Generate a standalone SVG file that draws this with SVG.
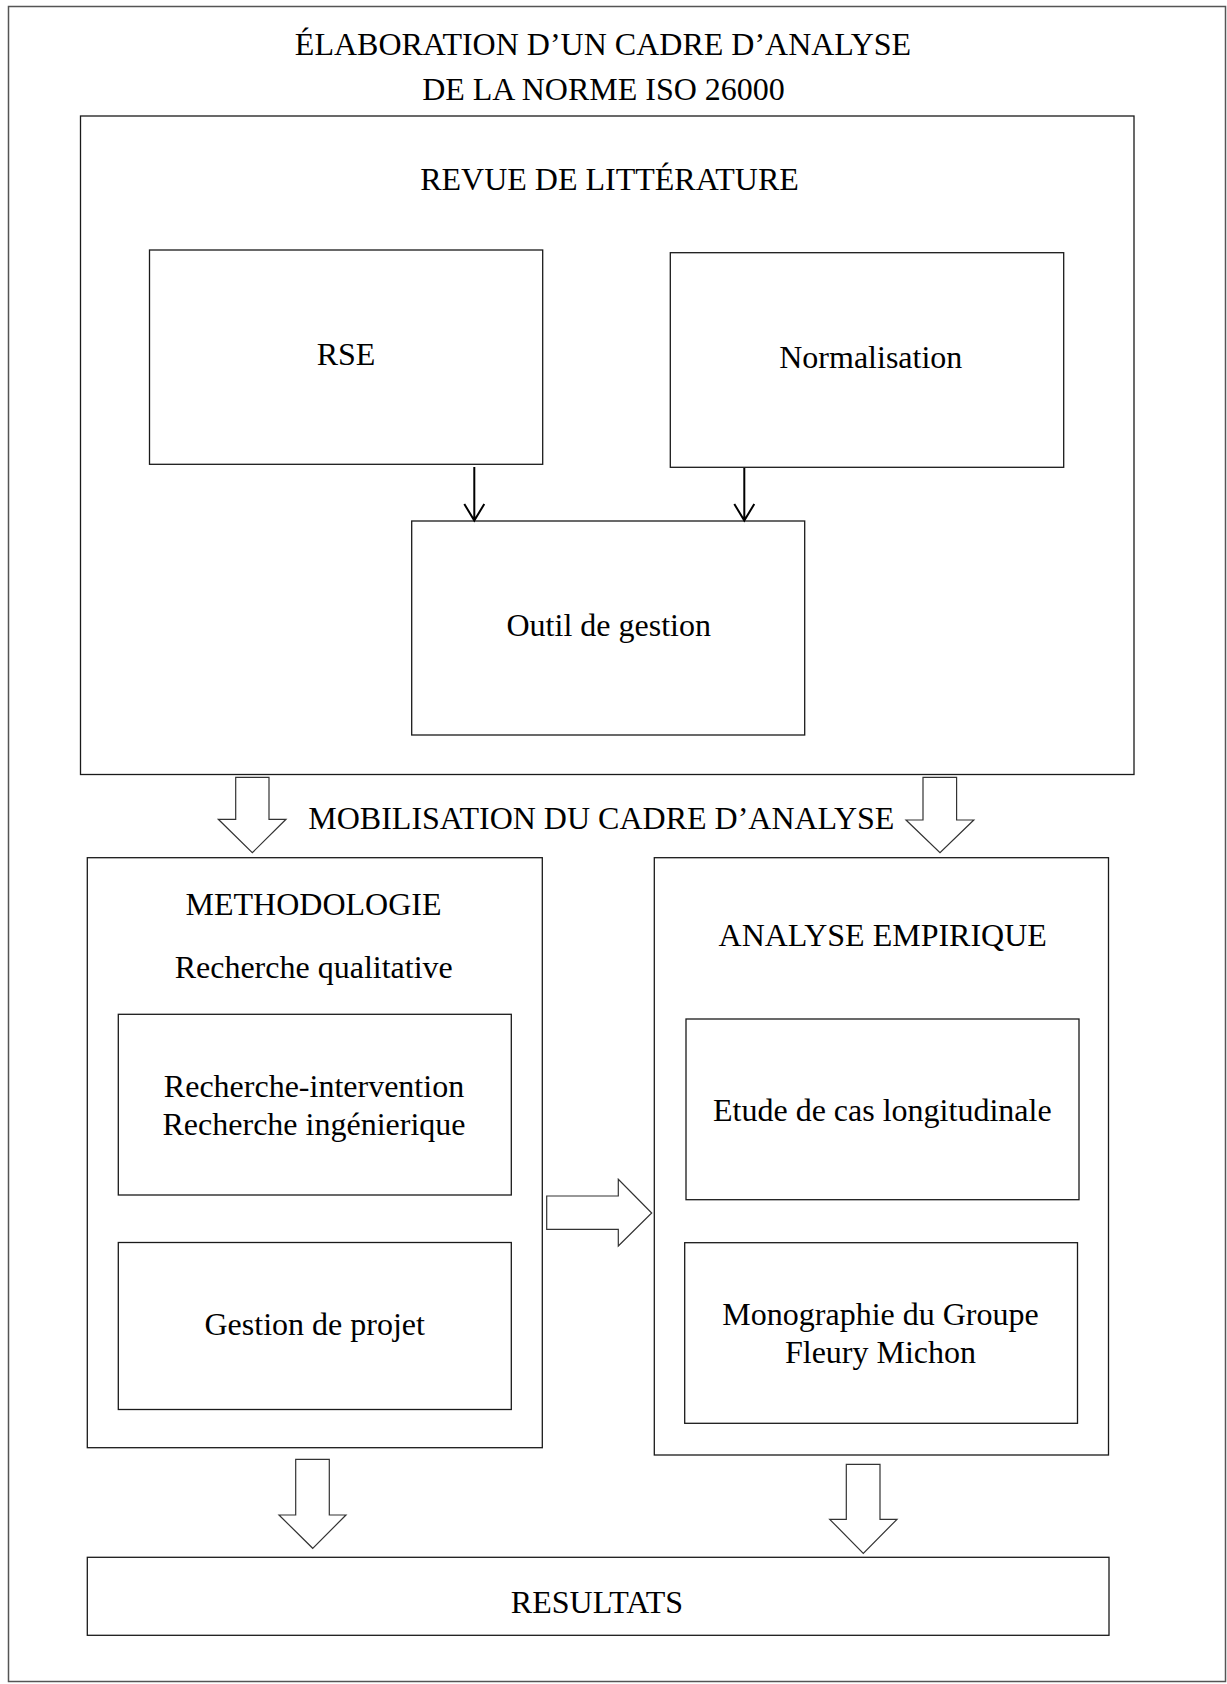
<svg xmlns="http://www.w3.org/2000/svg" width="1227" height="1684" viewBox="0 0 1227 1684">
<style>
  .box { fill: none; stroke: #1a1a1a; stroke-width: 1.3; }
  .frame { fill: none; stroke: #555; stroke-width: 1.5; }
  .t { font-family: "Liberation Serif", "Times New Roman", serif; font-size: 32px; fill: #000; }
  .m { text-anchor: middle; }
  .blk { fill: #fff; stroke: #333; stroke-width: 1.2; stroke-linejoin: miter; }
  .ln { fill: none; stroke: #000; stroke-width: 2; }
</style>
<rect width="1227" height="1684" fill="#fff"/>
<g id="frame">
  <rect class="frame" x="8.5" y="6.5" width="1217" height="1675"/>
  <text class="t m" x="603" y="55">ÉLABORATION D’UN CADRE D’ANALYSE</text>
  <text class="t m" x="603.5" y="100">DE LA NORME ISO 26000</text>
</g>
<g id="revue">
  <rect class="box" x="80.5" y="116" width="1053.5" height="658.5"/>
  <text class="t m" x="609.5" y="190">REVUE DE LITTÉRATURE</text>
</g>
<g id="rse">
  <rect class="box" x="149.5" y="250" width="393.2" height="214.3"/>
  <text class="t m" x="346" y="365">RSE</text>
</g>
<g id="normalisation">
  <rect class="box" x="670.3" y="252.7" width="393.4" height="214.6"/>
  <text class="t m" x="870.8" y="368">Normalisation</text>
</g>
<g id="outil">
  <rect class="box" x="411.7" y="521" width="393" height="214"/>
  <text class="t m" x="608.7" y="636">Outil de gestion</text>
</g>
<g id="mobilisation">
  <text class="t" x="308.3" y="829.3">MOBILISATION DU CADRE D’ANALYSE</text>
</g>
<g id="methodologie">
  <rect class="box" x="87.3" y="857.7" width="455" height="590"/>
  <text class="t m" x="313.5" y="915">METHODOLOGIE</text>
  <text class="t m" x="313.7" y="978">Recherche qualitative</text>
</g>
<g id="recherche-intervention">
  <rect class="box" x="118.3" y="1014.3" width="393" height="180.7"/>
  <text class="t m" x="314" y="1097">Recherche-intervention</text>
  <text class="t m" x="314" y="1134.5">Recherche ingénierique</text>
</g>
<g id="gestion-projet">
  <rect class="box" x="118.3" y="1242.5" width="393" height="167"/>
  <text class="t m" x="314.7" y="1335">Gestion de projet</text>
</g>
<g id="analyse">
  <rect class="box" x="654.3" y="857.7" width="454.2" height="597.3"/>
  <text class="t m" x="882.7" y="946">ANALYSE EMPIRIQUE</text>
</g>
<g id="etude">
  <rect class="box" x="686" y="1019" width="393" height="180.7"/>
  <text class="t m" x="882.3" y="1121">Etude de cas longitudinale</text>
</g>
<g id="monographie">
  <rect class="box" x="684.7" y="1242.7" width="392.8" height="180.6"/>
  <text class="t m" x="880.5" y="1325">Monographie du Groupe</text>
  <text class="t m" x="880.5" y="1362.7">Fleury Michon</text>
</g>
<g id="resultats">
  <rect class="box" x="87.3" y="1557.3" width="1021.7" height="78"/>
  <text class="t m" x="597" y="1613">RESULTATS</text>
</g>
<g id="connectors">
  <path class="ln" d="M474.3 467V520.5M464.3 504L474.3 520.5L484.3 504"/>
  <path class="ln" d="M744.3 468V520.5M734.3 504L744.3 520.5L754.3 504"/>
  <path class="blk" d="M235.7 777.3H269V819.3H286L252.3 852.7L218.3 819.3H235.7Z"/>
  <path class="blk" d="M923 777.3H956.6V820H973.8L940 852.7L906 820H923Z"/>
  <path class="blk" d="M546.7 1196H618.3V1179.3L651.7 1213L618.3 1246V1229.3H546.7Z"/>
  <path class="blk" d="M295.7 1459.3H329.3V1515H346L312.7 1548.3L279 1515H295.7Z"/>
  <path class="blk" d="M846.3 1464.3H880V1519.3H897L863.3 1553.3L829.7 1519.3H846.3Z"/>
</g>
</svg>
